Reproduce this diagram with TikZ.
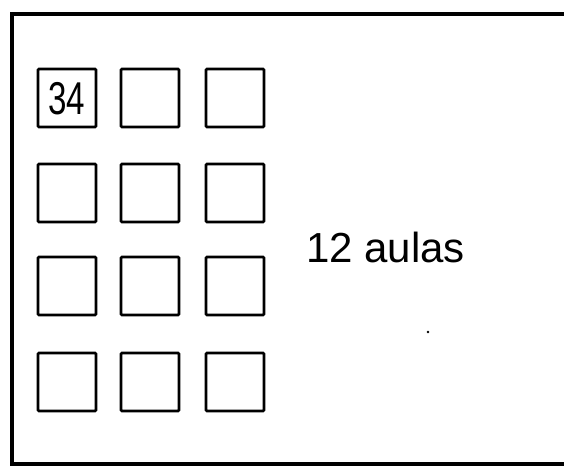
\documentclass[tikz,border=0pt]{standalone}
\usepackage{fontspec}
\setmainfont{Liberation Sans}
\begin{document}
\begin{tikzpicture}[x=1pt,y=-1pt,
  frameline/.style={line width=4.5pt},
  aula/.style={draw,line width=2.6pt,minimum width=58pt,minimum height=58pt,inner sep=0pt,rounded corners=1pt},
  hand/.style={font=\fontsize{42}{46}\selectfont}]
\useasboundingbox (0,0) rectangle (564,468);
\fill[white] (0,0) rectangle (564,468);
% frame (right side cut off)
\draw[frameline] (564,14) -- (12,14) -- (12,464) -- (564,464);
% rooms
\foreach \r/\yy in {1/98,2/193,3/286,4/382}{
  \foreach \c/\xx in {1/67,2/150,3/235}{
    \node[aula] (a\r\c) at (\xx,\yy) {};
  }
}
\node[font=\fontsize{46}{50}\selectfont,inner sep=0pt] (n34) at ([yshift=-1pt]a11) {\scalebox{0.72}[1]{34}};
\node[hand,anchor=base west,inner sep=0pt] (lbl) at (306,262) {\scalebox{1.0}[1]{12 aulas}};
\fill (428,332) circle (1.3pt);
\end{tikzpicture}
\end{document}
